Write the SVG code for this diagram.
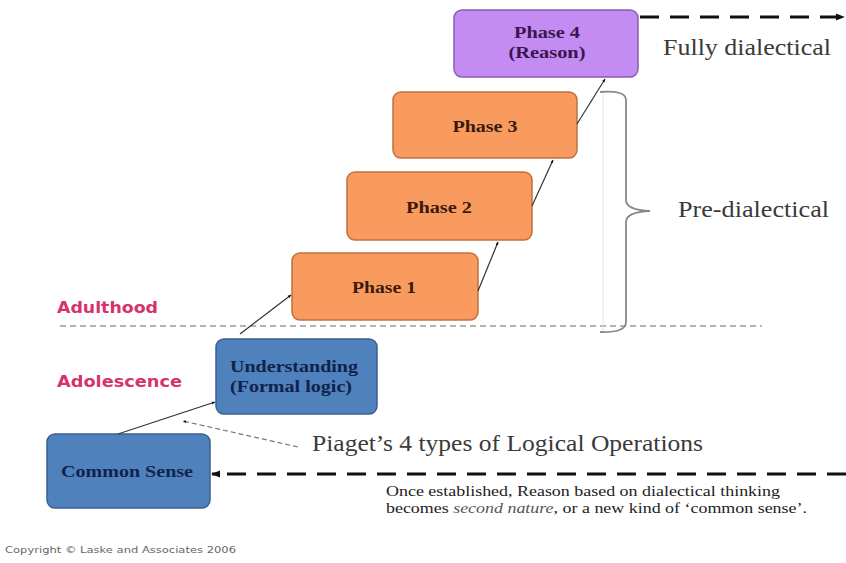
<svg xmlns="http://www.w3.org/2000/svg" width="846" height="563" viewBox="0 0 846 563">
<defs>
<style>
.box{stroke-width:1.5}
.orange{fill:#f99a5e;stroke:#c0703f}
.blue{fill:#4f81bd;stroke:#3a6090}
.purple{fill:#c28cf2;stroke:#8a5cb0}
.lbl{font-family:"Liberation Serif",serif;font-weight:bold;font-size:16px;text-anchor:middle}
.ph{fill:#3b1a0c}
.bl{fill:#10234a}
.pu{fill:#3a1550}
.note{font-family:"Liberation Serif",serif;font-size:23px;fill:#3a3a3a}
.age{font-family:"DejaVu Sans",sans-serif;font-size:15px;font-weight:bold;fill:#d6336c}
.small{font-family:"Liberation Serif",serif;font-size:14px;fill:#222}
.conn{stroke:#333;stroke-width:1.2;fill:none}
.big{stroke:#111;stroke-width:3;fill:none;stroke-dasharray:19 11}
</style>
<marker id="ahb" viewBox="0 0 10 10" refX="9" refY="5" markerWidth="3" markerHeight="3" orient="auto-start-reverse"><path d="M0,1 L10,5 L0,9 z" fill="#111"/></marker>
</defs>

<g id="divider">
<line x1="60" y1="326" x2="762" y2="326" stroke="#999" stroke-width="1.5" stroke-dasharray="6 4"/>
</g>

<g id="brace">
<line x1="603" y1="94" x2="603" y2="332" stroke="#e4e4e4" stroke-width="1"/>
<path d="M600,92 Q626,90 626,100 L626,200 Q626,210 650,211 Q626,212 626,222 L626,322 Q626,333 600,332" fill="none" stroke="#888" stroke-width="1.8"/>
</g>

<g id="phase4">
<rect class="box purple" x="454" y="10" width="184" height="67" rx="8"/>
<text class="lbl pu" x="547" y="38" textLength="66" lengthAdjust="spacingAndGlyphs">Phase 4</text>
<text class="lbl pu" x="547" y="58" textLength="77" lengthAdjust="spacingAndGlyphs">(Reason)</text>
</g>
<g id="phase3">
<rect class="box orange" x="393" y="92" width="184" height="66" rx="8"/>
<text class="lbl ph" x="485" y="132" textLength="65" lengthAdjust="spacingAndGlyphs">Phase 3</text>
</g>
<g id="phase2">
<rect class="box orange" x="347" y="172" width="185" height="68" rx="8"/>
<text class="lbl ph" x="439" y="213" textLength="66" lengthAdjust="spacingAndGlyphs">Phase 2</text>
</g>
<g id="phase1">
<rect class="box orange" x="292" y="253" width="186" height="67" rx="8"/>
<text class="lbl ph" x="384" y="293" textLength="64" lengthAdjust="spacingAndGlyphs">Phase 1</text>
</g>
<g id="understanding">
<rect class="box blue" x="216" y="339" width="161" height="75" rx="8"/>
<text class="lbl bl" x="294" y="372" textLength="128" lengthAdjust="spacingAndGlyphs">Understanding</text>
<text class="lbl bl" x="291" y="392" textLength="122" lengthAdjust="spacingAndGlyphs">(Formal logic)</text>
</g>
<g id="common-sense">
<rect class="box blue" x="47" y="434" width="163" height="74" rx="8"/>
<text class="lbl bl" x="127" y="477" textLength="132" lengthAdjust="spacingAndGlyphs">Common Sense</text>
</g>

<g id="connectors">
<line class="conn" x1="118" y1="434" x2="215" y2="402" marker-end="url(#ahb)"/>
<line class="conn" x1="240" y1="334" x2="291" y2="295" marker-end="url(#ahb)"/>
<line class="conn" x1="478" y1="291" x2="498" y2="242" marker-end="url(#ahb)"/>
<line class="conn" x1="532" y1="206" x2="553" y2="160" marker-end="url(#ahb)"/>
<line class="conn" x1="577" y1="124" x2="605" y2="79" marker-end="url(#ahb)"/>
<line x1="298" y1="447" x2="183" y2="421" stroke="#777" stroke-width="1.2" stroke-dasharray="5 3" marker-end="url(#ahb)"/>
<line class="big" x1="640" y1="17" x2="844" y2="17" marker-end="url(#ahb)"/>
<line class="big" x1="846" y1="474" x2="212" y2="474" marker-end="url(#ahb)"/>
</g>

<g id="labels">
<text class="note" x="663" y="55" textLength="168" lengthAdjust="spacingAndGlyphs">Fully dialectical</text>
<text class="note" x="678" y="217" textLength="151" lengthAdjust="spacingAndGlyphs">Pre-dialectical</text>
<text class="note" x="312" y="451" textLength="391" lengthAdjust="spacingAndGlyphs">Piaget’s 4 types of Logical Operations</text>
<text class="age" x="57" y="313" textLength="101" lengthAdjust="spacingAndGlyphs">Adulthood</text>
<text class="age" x="57" y="387" textLength="125" lengthAdjust="spacingAndGlyphs">Adolescence</text>
<text class="small" x="386" y="496" textLength="394" lengthAdjust="spacingAndGlyphs">Once established, Reason based on dialectical thinking</text>
<text class="small" x="386" y="513" textLength="421" lengthAdjust="spacingAndGlyphs">becomes <tspan font-style="italic" fill="#555">second nature</tspan>, or a new kind of ‘common sense’.</text>
<text x="5" y="553" font-family="DejaVu Sans,sans-serif" font-size="9" fill="#666" textLength="231" lengthAdjust="spacingAndGlyphs">Copyright © Laske and Associates 2006</text>
</g>
</svg>
